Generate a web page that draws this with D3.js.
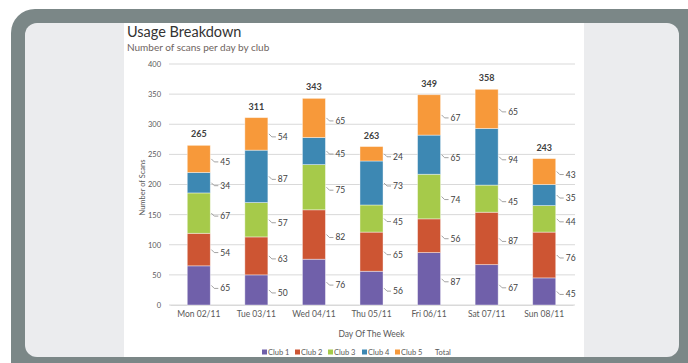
<!DOCTYPE html>
<html>
<head>
<meta charset="utf-8">
<script src="https://cdn.jsdelivr.net/npm/d3@7"></script>
<style>
  html, body { margin: 0; padding: 0; background: #fff; }
  svg { display: block; }
</style>
</head>
<body>
<svg id="chart"></svg>
<script>
const days = ['Mon 02/11', 'Tue 03/11', 'Wed 04/11', 'Thu 05/11', 'Fri 06/11', 'Sat 07/11', 'Sun 08/11']
const clubs = ['Club 1', 'Club 2', 'Club 3', 'Club 4', 'Club 5']
const club1 = [65, 50, 76, 56, 87, 67, 45]
const club2 = [54, 63, 82, 65, 56, 87, 76]
const club3 = [67, 57, 75, 45, 74, 45, 44]
const club4 = [34, 87, 45, 73, 65, 94, 35]
const club5 = [45, 54, 65, 24, 67, 65, 43]
const yTicks = [0, 50, 100, 150, 200, 250, 300, 350, 400]

const clubColors = ['#7060aa', '#cd5533', '#a6ca4a', '#3d88b3', '#f7993a']

const width = 688
const height = 363
const svg = d3.select('#chart').attr('width', width).attr('height', height)
const font = 'Lato, "Open Sans", sans-serif'

// frame
svg.append('rect')
  .attr('x', 11).attr('y', 9).attr('width', 700).attr('height', 400)
  .attr('rx', 24).attr('fill', '#7b8787')
svg.append('rect')
  .attr('x', 25).attr('y', 23).attr('width', 654).attr('height', 334)
  .attr('rx', 12).attr('fill', '#ebecee')
svg.append('rect')
  .attr('x', 124).attr('y', 23).attr('width', 460).attr('height', 334)
  .attr('fill', '#fff')

// titles
svg.append('text')
  .attr('x', 127).attr('y', 37)
  .attr('font-family', font).attr('font-size', 14.5)
  .attr('fill', '#333').text('Usage Breakdown')
svg.append('text')
  .attr('x', 127).attr('y', 51)
  .attr('font-family', font).attr('font-size', 10)
  .attr('fill', '#6e6460').text('Number of scans per day by club')

const rows = days.map((d, i) => ({
  day: d,
  'Club 1': club1[i],
  'Club 2': club2[i],
  'Club 3': club3[i],
  'Club 4': club4[i],
  'Club 5': club5[i]
}))

const x = d3.scaleBand().domain(days).range([170, 573]).paddingInner(0.6).paddingOuter(0.3)
const y = d3.scaleLinear().domain([0, 400]).range([305, 64])

// grid
svg.append('g')
  .selectAll('line')
  .data(yTicks)
  .enter()
  .append('line')
  .attr('x1', 169).attr('x2', 575)
  .attr('y1', d => y(d)).attr('y2', d => y(d))
  .attr('stroke', '#d9d9d9').attr('stroke-width', 1)

const yAxis = svg.append('g')
  .attr('transform', 'translate(161,0)')
  .call(d3.axisLeft(y).tickValues(yTicks).tickSize(0).tickPadding(0))
yAxis.select('.domain').remove()
yAxis.selectAll('text')
  .attr('font-family', font).attr('font-size', 7.5).attr('fill', '#595959')

const xAxis = svg.append('g')
  .attr('transform', 'translate(0,305)')
  .call(d3.axisBottom(x).tickSize(0).tickPadding(6))
xAxis.select('.domain').attr('stroke', '#d9d9d9')
xAxis.selectAll('text')
  .attr('font-family', font).attr('font-size', 8.5).attr('fill', '#595959')

svg.append('text')
  .attr('transform', 'translate(145,' + y(195) + ') rotate(-90)')
  .attr('text-anchor', 'middle')
  .attr('font-family', font).attr('font-size', 7.5).attr('fill', '#595959')
  .text('Number of Scans')

svg.append('text')
  .attr('x', (170 + 573) / 2).attr('y', 337)
  .attr('text-anchor', 'middle')
  .attr('font-family', font).attr('font-size', 8.5).attr('fill', '#595959')
  .text('Day Of The Week')

// stacked bars
const series = d3.stack().keys(clubs)(rows)

const layer = svg.append('g')
  .selectAll('g')
  .data(series)
  .enter()
  .append('g')
  .attr('fill', (d, i) => clubColors[i])

layer.selectAll('rect')
  .data(d => d)
  .enter()
  .append('rect')
  .attr('x', d => x(d.data.day))
  .attr('width', x.bandwidth())
  .attr('y', d => y(d[1]))
  .attr('height', d => y(d[0]) - y(d[1]))
  .attr('stroke', 'rgba(255,255,255,0.5)')
  .attr('stroke-width', 0.8)

// data labels with leader lines
const labels = svg.append('g')
series.forEach(s => {
  s.forEach(d => {
    const bx = x(d.data.day) + x.bandwidth()
    const my = y((d[0] + d[1]) / 2)
    const ly = my + 3
    labels.append('path')
      .attr('d', 'M' + (bx + 1) + ',' + my + 'L' + (bx + 4) + ',' + ly + 'L' + (bx + 8) + ',' + ly)
      .attr('fill', 'none').attr('stroke', '#8c8c8c').attr('stroke-width', 0.8)
    labels.append('text')
      .attr('x', bx + 10).attr('y', ly)
      .attr('dy', '0.35em')
      .attr('font-family', font).attr('font-size', 8.5).attr('fill', '#404040')
      .text(d[1] - d[0])
  })
})

// totals
const topLayer = series[series.length - 1]
svg.append('g')
  .selectAll('text')
  .data(topLayer)
  .enter()
  .append('text')
  .attr('x', d => x(d.data.day) + x.bandwidth() / 2)
  .attr('y', d => y(d[1]) - 11)
  .attr('dy', '0.35em')
  .attr('text-anchor', 'middle')
  .attr('font-family', font).attr('font-size', 9).attr('font-weight', 'bold')
  .attr('fill', '#404040')
  .text(d => d[1])

// legend
const legendItems = clubs.concat(['Total'])
const legendX = [262, 295, 328, 362, 395, 435]
const legend = svg.append('g')
  .selectAll('g')
  .data(legendItems)
  .enter()
  .append('g')
  .attr('transform', (d, i) => 'translate(' + legendX[i] + ',352)')
legend.filter((d, i) => i < clubs.length)
  .append('rect')
  .attr('x', 0).attr('y', -2.5).attr('width', 5).attr('height', 5)
  .attr('fill', (d, i) => clubColors[i])
legend.append('text')
  .attr('x', (d, i) => i < clubs.length ? 6 : 0)
  .attr('y', 0).attr('dy', '0.35em')
  .attr('font-family', font).attr('font-size', 7.5).attr('fill', '#595959')
  .text(d => d)
</script>
</body>
</html>
